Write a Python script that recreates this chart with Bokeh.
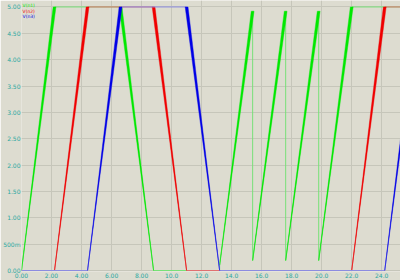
from bokeh.plotting import figure
from bokeh.models import FixedTicker, Label, Range1d
from bokeh.embed import file_html
from bokeh.resources import INLINE

# ---- data ----
t_n1 = [0.0, 2.2, 6.6, 8.8, 13.2, 13.2, 15.4, 15.4, 17.6, 17.6, 19.8, 19.8, 22.0, 25.3]
v_n1 = [0.0, 5.0, 5.0, 0.0, 0.0, 0.1, 4.92, 0.19, 4.92, 0.19, 4.92, 0.19, 5.0, 5.0]

t_n2 = [0.0, 2.2, 4.4, 8.8, 11.0, 22.0, 24.2, 25.3]
v_n2 = [0.0, 0.0, 5.0, 5.0, 0.0, 0.0, 5.0, 5.0]

t_n3 = [0.0, 4.4, 6.6, 11.0, 13.2, 24.2, 25.3]
v_n3 = [0.0, 0.0, 5.0, 5.0, 0.0, 0.0, 2.5]

series_names = ["V(n1)", "V(n2)", "V(n3)"]
series_colors = ["#00e800", "#f00000", "#0000e6"]
series_thin = ["#78e078", "#e07070", "#8c8ce0"]

x_ticks = [0, 2, 4, 6, 8, 10, 12, 14, 16, 18, 20, 22, 24]
x_labels = ["0.00", "2.00", "4.00", "6.00", "8.00", "10.0", "12.0", "14.0",
            "16.0", "18.0", "20.0", "22.0", "24.0"]
y_ticks = [0, 0.5, 1, 1.5, 2, 2.5, 3, 3.5, 4, 4.5, 5]
y_labels = ["0.00", "500m", "1.00", "1.50", "2.00", "2.50", "3.00", "3.50",
            "4.00", "4.50", "5.00"]

BG = "#dddcd0"
GRID = "#c6c6ba"
LBL = "#2aa8a0"

p = figure(width=400, height=280, output_backend="svg", toolbar_location=None,
           x_range=Range1d(0, 25.25), y_range=Range1d(-0.0188, 5.1224),
           min_border_left=16, min_border_right=0, min_border_top=0,
           min_border_bottom=7)
p.background_fill_color = BG
p.border_fill_color = BG
p.outline_line_color = None

for ax in (p.xaxis[0], p.yaxis[0]):
    ax.axis_line_color = None
    ax.major_tick_line_color = None
    ax.minor_tick_line_color = None
    ax.major_tick_out = 0
    ax.major_tick_in = 0
    ax.major_label_text_font = "DejaVu Sans"
    ax.major_label_text_font_size = "6px"
    ax.major_label_text_color = LBL
    ax.major_label_standoff = 1

p.xaxis[0].ticker = FixedTicker(ticks=x_ticks)
p.xaxis[0].major_label_overrides = {t: s for t, s in zip(x_ticks, x_labels)}
p.yaxis[0].ticker = FixedTicker(ticks=y_ticks)
p.yaxis[0].major_label_overrides = {t: s for t, s in zip(y_ticks, y_labels)}
p.xgrid.grid_line_color = GRID
p.ygrid.grid_line_color = GRID


def wedges(t, v, k=0.038):
    xs, ys = [], []
    for i in range(len(t) - 1):
        t0, t1, v0, v1 = t[i], t[i + 1], v[i], v[i + 1]
        if t0 != t1 and v0 != v1:
            w0, w1 = k * v0 / 2, k * v1 / 2
            xs.append([t0 - w0, t1 - w1, t1 + w1, t0 + w0])
            ys.append([v0, v1, v1, v0])
    return xs, ys


for t, v, c, ct in zip([t_n1, t_n2, t_n3], [v_n1, v_n2, v_n3],
                       series_colors, series_thin):
    p.line(t, v, line_color=ct, line_width=1)
    xs, ys = wedges(t, v)
    p.patches(xs, ys, fill_color=c, line_color=c, line_width=0.4)

for i, (name, c) in enumerate(zip(series_names, series_colors)):
    p.add_layout(Label(x=0.07, y=5.02 - 0.1 * i, text=name, text_color=c,
                       text_font_size="4.5px", text_font="DejaVu Sans",
                       text_baseline="middle"))

open("out.html", "w").write(file_html(p, INLINE))
